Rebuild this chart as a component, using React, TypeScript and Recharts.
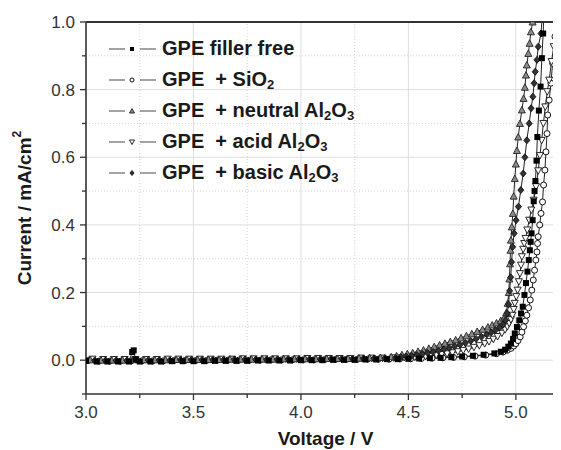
import React from 'react';
import { LineChart, Line, XAxis, YAxis, ReferenceLine, Legend } from 'recharts';

type Pt = [number, number];

const xMajorTicks = [3.0, 3.5, 4.0, 4.5, 5.0];
const xMinorTicks = [3.25, 3.75, 4.25, 4.75];
const yMajorTicks = [0.0, 0.2, 0.4, 0.6, 0.8, 1.0];
const yMinorTicks = [-0.1, 0.1, 0.3, 0.5, 0.7, 0.9];

const seriesNames = [
  'GPE filler free',
  'GPE  + SiO2',
  'GPE  + neutral Al2O3',
  'GPE  + acid Al2O3',
  'GPE  + basic Al2O3',
];
const seriesShapes = ['square', 'circle', 'up', 'down', 'diamond'];
// light markers first, dark ones on top
const drawOrder = [1, 3, 2, 4, 0];

// [voltage (V), current (mA/cm2)]
const fillerFree: Pt[] = [
  [3.00, -0.002], [3.05, -0.004], [3.10, -0.004], [3.15, -0.004], [3.20, -0.004], [3.215, 0.024], [3.222, 0.029],
  [3.230, 0.002], [3.25, -0.004], [3.30, -0.004], [3.35, -0.004], [3.40, -0.003], [3.45, -0.003], [3.50, -0.003],
  [3.55, -0.003], [3.60, -0.002], [3.65, -0.002], [3.70, -0.002], [3.75, -0.002], [3.80, -0.001], [3.85, -0.001],
  [3.90, -0.001], [3.95, -0.001], [4.00, 0.000], [4.05, 0.000], [4.10, 0.000], [4.15, 0.001], [4.20, 0.001],
  [4.25, 0.001], [4.30, 0.002], [4.35, 0.002], [4.40, 0.003], [4.45, 0.003], [4.50, 0.004], [4.55, 0.005],
  [4.60, 0.006], [4.65, 0.007], [4.70, 0.009], [4.75, 0.011], [4.80, 0.013], [4.85, 0.016], [4.90, 0.020],
  [4.93, 0.025], [4.95, 0.031], [4.965, 0.040], [4.977, 0.049], [4.987, 0.063], [4.995, 0.079], [5.005, 0.098],
  [5.016, 0.118], [5.024, 0.138], [5.032, 0.158], [5.040, 0.193], [5.047, 0.228], [5.054, 0.262], [5.060, 0.296],
  [5.065, 0.325], [5.069, 0.350], [5.073, 0.375], [5.078, 0.414], [5.083, 0.470], [5.087, 0.500], [5.091, 0.530],
  [5.096, 0.590], [5.100, 0.660], [5.107, 0.738], [5.115, 0.809], [5.121, 0.893], [5.127, 0.966], [5.132, 1.050],
];

const sio2: Pt[] = [
  [3.01, -0.001], [3.06, -0.003], [3.11, -0.003], [3.16, -0.003], [3.21, -0.002], [3.26, -0.002], [3.31, -0.002],
  [3.36, -0.002], [3.41, -0.001], [3.46, -0.001], [3.51, -0.001], [3.56, -0.001], [3.61, 0.000], [3.66, 0.000],
  [3.71, 0.000], [3.76, 0.000], [3.81, 0.000], [3.86, 0.001], [3.91, 0.001], [3.96, 0.001], [4.01, 0.001],
  [4.06, 0.001], [4.11, 0.002], [4.16, 0.002], [4.21, 0.002], [4.26, 0.002], [4.31, 0.003], [4.36, 0.003],
  [4.41, 0.003], [4.46, 0.004], [4.51, 0.004], [4.56, 0.005], [4.61, 0.006], [4.66, 0.007], [4.71, 0.008],
  [4.76, 0.010], [4.81, 0.012], [4.86, 0.015], [4.91, 0.019], [4.94, 0.024], [4.96, 0.029], [4.977, 0.035],
  [4.990, 0.042], [5.000, 0.049], [5.010, 0.058], [5.020, 0.069], [5.028, 0.083], [5.036, 0.099], [5.044, 0.116],
  [5.051, 0.133], [5.059, 0.155], [5.067, 0.178], [5.074, 0.207], [5.081, 0.237], [5.087, 0.266], [5.093, 0.296],
  [5.098, 0.320], [5.101, 0.345], [5.104, 0.365], [5.111, 0.400], [5.117, 0.434], [5.124, 0.468], [5.129, 0.518],
  [5.135, 0.562], [5.140, 0.616], [5.145, 0.670], [5.148, 0.725], [5.155, 0.769], [5.163, 0.819], [5.171, 0.878],
  [5.182, 0.957], [5.190, 1.050],
];

const neutralAl2O3: Pt[] = [
  [3.02, 0.001], [3.07, 0.000], [3.12, 0.000], [3.17, 0.000], [3.22, 0.001], [3.27, 0.001], [3.32, 0.001],
  [3.37, 0.001], [3.42, 0.002], [3.47, 0.002], [3.52, 0.002], [3.57, 0.002], [3.62, 0.002], [3.67, 0.003],
  [3.72, 0.003], [3.77, 0.003], [3.82, 0.003], [3.87, 0.003], [3.92, 0.004], [3.97, 0.004], [4.02, 0.004],
  [4.07, 0.004], [4.12, 0.005], [4.17, 0.005], [4.22, 0.005], [4.27, 0.006], [4.32, 0.007], [4.37, 0.008],
  [4.42, 0.010], [4.445, 0.013], [4.47, 0.016], [4.495, 0.019], [4.52, 0.022], [4.545, 0.026], [4.57, 0.030],
  [4.595, 0.035], [4.62, 0.040], [4.645, 0.045], [4.67, 0.050], [4.695, 0.055], [4.72, 0.060], [4.745, 0.066],
  [4.77, 0.072], [4.795, 0.078], [4.82, 0.085], [4.845, 0.091], [4.87, 0.098], [4.89, 0.104], [4.91, 0.110],
  [4.93, 0.117], [4.945, 0.124], [4.955, 0.140], [4.962, 0.168], [4.967, 0.200], [4.970, 0.240], [4.973, 0.285],
  [4.975, 0.325], [4.977, 0.355], [4.981, 0.394], [4.986, 0.434], [4.990, 0.485], [4.995, 0.537], [5.000, 0.580],
  [5.005, 0.620], [5.011, 0.660], [5.019, 0.700], [5.028, 0.740], [5.036, 0.774], [5.042, 0.807], [5.047, 0.843],
  [5.051, 0.873], [5.058, 0.907], [5.064, 0.937], [5.070, 0.971], [5.078, 1.000], [5.086, 1.050],
];

const acidAl2O3: Pt[] = [
  [3.03, 0.003], [3.08, 0.002], [3.13, 0.002], [3.18, 0.002], [3.23, 0.002], [3.28, 0.002], [3.33, 0.002],
  [3.38, 0.003], [3.43, 0.003], [3.48, 0.003], [3.53, 0.003], [3.58, 0.003], [3.63, 0.003], [3.68, 0.003],
  [3.73, 0.004], [3.78, 0.004], [3.83, 0.004], [3.88, 0.004], [3.93, 0.004], [3.98, 0.004], [4.03, 0.005],
  [4.08, 0.005], [4.13, 0.005], [4.18, 0.005], [4.23, 0.005], [4.28, 0.006], [4.33, 0.006], [4.38, 0.006],
  [4.43, 0.007], [4.455, 0.007], [4.48, 0.008], [4.505, 0.008], [4.53, 0.009], [4.555, 0.010], [4.58, 0.011],
  [4.605, 0.013], [4.63, 0.015], [4.655, 0.017], [4.68, 0.019], [4.705, 0.022], [4.73, 0.025], [4.755, 0.029],
  [4.78, 0.033], [4.805, 0.038], [4.83, 0.043], [4.855, 0.049], [4.875, 0.055], [4.895, 0.062], [4.915, 0.070],
  [4.935, 0.080], [4.950, 0.090], [4.960, 0.099], [4.969, 0.109], [4.977, 0.120], [4.984, 0.133], [4.990, 0.150],
  [4.995, 0.168], [5.002, 0.188], [5.008, 0.207], [5.014, 0.232], [5.019, 0.256], [5.024, 0.281], [5.028, 0.306],
  [5.034, 0.328], [5.039, 0.345], [5.045, 0.360], [5.053, 0.385], [5.062, 0.414], [5.072, 0.444], [5.083, 0.473],
  [5.094, 0.513], [5.104, 0.560], [5.112, 0.605], [5.120, 0.650], [5.128, 0.700], [5.137, 0.749], [5.146, 0.794],
  [5.155, 0.828], [5.166, 0.883], [5.176, 0.927], [5.187, 1.000], [5.192, 1.050],
];

const basicAl2O3: Pt[] = [
  [3.04, -0.001], [3.09, -0.001], [3.14, -0.001], [3.19, -0.001], [3.24, 0.000], [3.29, 0.000], [3.34, 0.000],
  [3.39, 0.000], [3.44, 0.001], [3.49, 0.001], [3.54, 0.001], [3.59, 0.001], [3.64, 0.001], [3.69, 0.002],
  [3.74, 0.002], [3.79, 0.002], [3.84, 0.002], [3.89, 0.002], [3.94, 0.003], [3.99, 0.003], [4.04, 0.003],
  [4.09, 0.003], [4.14, 0.004], [4.19, 0.004], [4.24, 0.004], [4.29, 0.005], [4.34, 0.005], [4.39, 0.006],
  [4.44, 0.007], [4.465, 0.009], [4.49, 0.011], [4.515, 0.013], [4.54, 0.015], [4.565, 0.018], [4.59, 0.021],
  [4.615, 0.024], [4.64, 0.028], [4.665, 0.032], [4.69, 0.036], [4.715, 0.041], [4.74, 0.046], [4.765, 0.051],
  [4.79, 0.057], [4.815, 0.063], [4.84, 0.069], [4.865, 0.076], [4.885, 0.082], [4.905, 0.089], [4.925, 0.097],
  [4.94, 0.105], [4.952, 0.118], [4.960, 0.138], [4.966, 0.165], [4.971, 0.205], [4.976, 0.245], [4.980, 0.290],
  [4.985, 0.335], [4.992, 0.375], [5.001, 0.414], [5.012, 0.454], [5.023, 0.503], [5.034, 0.552], [5.042, 0.600],
  [5.051, 0.650], [5.062, 0.700], [5.071, 0.745], [5.079, 0.779], [5.085, 0.819], [5.090, 0.853], [5.098, 0.888],
  [5.104, 0.927], [5.117, 0.966], [5.126, 1.050],
];

const seriesData = [fillerFree, sio2, neutralAl2O3, acidAl2O3, basicAl2O3];

const FONT = '"Liberation Sans", Arial, Helvetica, sans-serif';

const Marker = ({ shape, cx, cy, size = 5 }: any) => {
  if (cx == null || cy == null || isNaN(cx) || isNaN(cy)) return null;
  const s = size / 2;
  switch (shape) {
    case 'square':
      return <rect x={cx - s} y={cy - s} width={size} height={size} fill="#000" />;
    case 'circle':
      return <circle cx={cx} cy={cy} r={s} fill="#fff" stroke="#111" strokeWidth={1} />;
    case 'up':
      return (
        <polygon
          points={`${cx},${cy - s - 0.5} ${cx - s - 0.5},${cy + s} ${cx + s + 0.5},${cy + s}`}
          fill="#8a8a8a" stroke="#222" strokeWidth={0.9}
        />
      );
    case 'down':
      return (
        <polygon
          points={`${cx},${cy + s + 0.5} ${cx - s - 0.5},${cy - s} ${cx + s + 0.5},${cy - s}`}
          fill="#fff" stroke="#111" strokeWidth={0.9}
        />
      );
    default:
      return (
        <polygon
          points={`${cx},${cy - s - 0.5} ${cx + s},${cy} ${cx},${cy + s + 0.5} ${cx - s},${cy}`}
          fill="#333" stroke="#111" strokeWidth={0.9}
        />
      );
  }
};

const withSubscripts = (label: string, subSize: number) =>
  label.split(/(\d)/).map((part, i) =>
    /\d/.test(part) ? (
      <span key={i} style={{ fontSize: subSize, verticalAlign: -3 }}>{part}</span>
    ) : (
      <span key={i}>{part}</span>
    )
  );

const LegendBox = () => (
  <div style={{ fontFamily: FONT, fontWeight: 'bold', fontSize: 20, color: '#1a1a1a' }}>
    {seriesNames.map((name, idx) => (
      <div key={name} style={{ display: 'flex', alignItems: 'center', height: 31, whiteSpace: 'pre' }}>
        <svg width={48} height={14} style={{ display: 'block' }}>
          <line x1={0} x2={16} y1={7} y2={7} stroke="#666" strokeWidth={1.2} />
          <Marker shape={seriesShapes[idx]} cx={23} cy={7} size={4} />
          <line x1={31} x2={47} y1={7} y2={7} stroke="#666" strokeWidth={1.2} />
        </svg>
        <span style={{ marginLeft: 5 }}>{withSubscripts(name, 13)}</span>
      </div>
    ))}
  </div>
);

const XTick = ({ x, y, payload }: any) => {
  const major = xMajorTicks.includes(payload.value);
  return (
    <g>
      <line x1={x} x2={x} y1={y} y2={y + (major ? 6 : 4)} stroke="#333" strokeWidth={1.3} />
      {major && (
        <text x={x} y={y + 24} textAnchor="middle" fontSize={17} fill="#333" fontFamily={FONT}>
          {payload.value.toFixed(1)}
        </text>
      )}
    </g>
  );
};

const YTick = ({ x, y, payload }: any) => {
  const major = yMajorTicks.includes(payload.value);
  return (
    <g>
      <line x1={x - (major ? 6 : 4)} x2={x} y1={y} y2={y} stroke="#333" strokeWidth={1.3} />
      {major && (
        <text x={x - 11} y={y + 6} textAnchor="end" fontSize={17} fill="#333" fontFamily={FONT}>
          {payload.value.toFixed(1)}
        </text>
      )}
    </g>
  );
};

const YTitle = ({ viewBox }: any) => {
  const cx = (viewBox?.x ?? 18) - 2;
  const cy = (viewBox?.y ?? 14) + (viewBox?.height ?? 372) / 2;
  return (
    <text
      x={cx} y={cy} transform={`rotate(-90 ${cx} ${cy})`} textAnchor="middle" dominantBaseline="central"
      fontSize={19} fontWeight="bold" fill="#1a1a1a" fontFamily={FONT}
    >
      Current / mA/cm<tspan fontSize={12} dy={-7}>2</tspan>
    </text>
  );
};

const XTitle = ({ viewBox }: any) => {
  const cx = (viewBox?.x ?? 78) + (viewBox?.width ?? 475) / 2 + 2;
  const y = (viewBox?.y ?? 386) + 51;
  return (
    <text x={cx} y={y} textAnchor="middle" fontSize={19} fontWeight="bold" fill="#1a1a1a" fontFamily={FONT}>
      Voltage / V
    </text>
  );
};

const App = () => {
  return (
    <div style={{ position: 'relative', width: 553, height: 442, fontFamily: FONT }}>
      <LineChart width={553} height={442} margin={{ top: 14, right: 0, bottom: 26, left: 18 }}>
        <XAxis
          type="number"
          dataKey="v"
          domain={[3, 5.21]}
          allowDataOverflow
          ticks={[...xMajorTicks, ...xMinorTicks].sort((a, b) => a - b)}
          interval={0}
          tickSize={0}
          tickMargin={0}
          tickLine={false}
          tick={<XTick />}
          axisLine={{ stroke: '#333', strokeWidth: 1.6 }}
          label={<XTitle />}
        />
        <YAxis
          type="number"
          dataKey="i"
          domain={[-0.1, 1.0]}
          allowDataOverflow
          ticks={[...yMajorTicks, ...yMinorTicks].sort((a, b) => a - b)}
          interval={0}
          width={60}
          tickSize={0}
          tickMargin={0}
          tickLine={false}
          tick={<YTick />}
          axisLine={{ stroke: '#333', strokeWidth: 1.6 }}
          label={<YTitle />}
        />
        {xMajorTicks.slice(1).map((v) => (
          <ReferenceLine key={`xm-${v}`} x={v} stroke="#dedede" strokeWidth={1} />
        ))}
        {xMinorTicks.map((v) => (
          <ReferenceLine key={`xn-${v}`} x={v} stroke="#d4d4d4" strokeWidth={1} strokeDasharray="1 2" />
        ))}
        {yMajorTicks.slice(0, -1).map((v) => (
          <ReferenceLine key={`ym-${v}`} y={v} stroke="#dedede" strokeWidth={1} />
        ))}
        {yMinorTicks.slice(1).map((v) => (
          <ReferenceLine key={`yn-${v}`} y={v} stroke="#d4d4d4" strokeWidth={1} strokeDasharray="1 2" />
        ))}
        <ReferenceLine y={1.0} stroke="#333" strokeWidth={2} />
        {drawOrder.map((idx) => (
          <Line
            key={seriesNames[idx]}
            name={seriesNames[idx]}
            data={seriesData[idx].map(([v, i]) => ({ v, i }))}
            dataKey="i"
            type="linear"
            stroke="#222"
            strokeWidth={1}
            isAnimationActive={false}
            activeDot={false}
            dot={(p: any) => <Marker key={`${idx}-${p.index}`} shape={seriesShapes[idx]} cx={p.cx} cy={p.cy} size={6} />}
          />
        ))}
        <Legend
          layout="vertical"
          align="center"
          verticalAlign="middle"
          wrapperStyle={{ top: 25, left: 101, width: 340, height: 'auto' }}
          content={() => <LegendBox />}
        />
      </LineChart>
    </div>
  );
};

export default App;
